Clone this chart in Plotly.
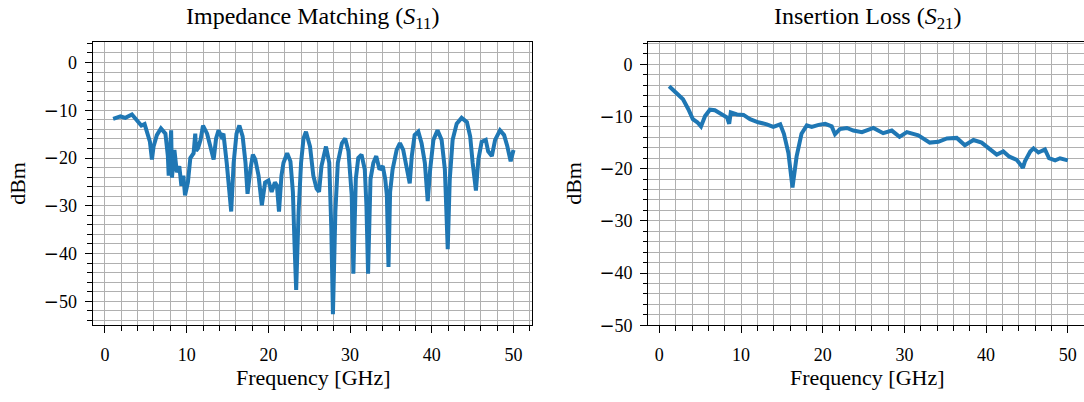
import plotly.graph_objects as go

# ---------------- data ----------------
s11_freq = [1.0, 1.5, 1.9, 2.5, 3.0, 3.3, 3.9, 4.45, 4.85, 5.1, 5.5, 5.75, 5.95, 6.35, 6.85,
            7.4, 7.7, 7.8, 8.1, 8.2, 8.5, 8.8, 9.1, 9.35, 9.6, 9.8, 10.15, 10.45, 10.85, 11.05,
            11.15, 11.4, 11.7, 12.0, 12.5, 12.9, 13.3, 13.6, 13.9, 14.25, 14.5, 14.9, 15.2, 15.45,
            15.75, 16.1, 16.45, 16.85, 17.2, 17.45, 17.8, 18.1, 18.4, 18.8, 19.2, 19.6, 20.0, 20.4,
            20.8, 21.05, 21.3, 21.6, 21.85, 22.3, 22.7, 23.0, 23.2, 23.4, 23.7, 24.0, 24.3, 24.6,
            25.1, 25.5, 25.9, 26.2, 26.5, 27.05, 27.45, 27.7, 27.9, 28.2, 28.5, 29.0, 29.4, 29.8,
            30.2, 30.4, 30.7, 31.0, 31.4, 31.8, 32.0, 32.2, 32.5, 32.85, 33.2, 33.6, 34.0, 34.3,
            34.5, 34.7, 34.9, 35.2, 35.7, 36.1, 36.5, 36.9, 37.3, 37.55, 37.9, 38.35, 38.75, 39.15,
            39.5, 39.8, 40.2, 40.7, 41.2, 41.6, 41.8, 41.95, 42.2, 42.55, 43.05, 43.65, 44.3, 44.7,
            45.0, 45.4, 45.7, 46.1, 46.6, 46.9, 47.35, 47.75, 48.35, 48.85, 49.25, 49.65, 50.0]
s11_db = [-11.8, -11.5, -11.3, -11.6, -11.2, -10.9, -12.1, -13.2, -12.9, -14.2, -16.6, -20.3, -17.6, -15.2, -13.8,
          -14.9, -19.6, -23.7, -14.2, -24.1, -18.3, -23.0, -21.7, -25.8, -23.7, -27.8, -25.1, -20.0, -19.0, -14.9,
          -18.5, -17.9, -16.2, -13.2, -14.9, -17.6, -20.3, -15.9, -14.2, -15.5, -14.9, -21.0, -26.4, -31.2,
          -21.0, -14.9, -13.2, -15.5, -21.0, -27.5, -22.4, -19.3, -20.3, -23.7, -29.9, -25.1, -24.7, -27.1,
          -25.1, -25.8, -31.2, -23.7, -21.0, -19.0, -20.7, -27.1, -38.0, -47.6, -31.2, -21.0, -15.9, -14.5,
          -17.6, -23.7, -26.4, -27.1, -21.7, -17.6, -21.0, -34.6, -52.7, -31.2, -21.0, -16.9, -15.9, -18.6,
          -27.8, -44.2, -24.4, -20.0, -19.3, -22.4, -29.9, -44.2, -24.4, -21.0, -19.6, -22.4, -21.7, -24.4,
          -27.8, -42.8, -27.1, -22.4, -18.3, -16.9, -18.3, -21.7, -25.3, -19.6, -15.2, -14.5, -16.9, -21.0,
          -29.0, -22.4, -16.2, -14.2, -16.2, -22.4, -31.2, -39.1, -24.4, -16.2, -12.8, -11.6, -12.5, -15.5,
          -21.0, -26.8, -20.3, -16.6, -16.2, -18.6, -19.6, -16.2, -14.2, -15.2, -17.6, -20.7, -18.3]

s21_freq = [1.2, 2.1, 2.9, 3.55, 4.1, 4.65, 5.1, 5.6, 6.2, 6.8, 7.6, 8.3, 8.55, 8.75, 9.5, 10.3,
            11.1, 12.1, 13.15, 13.95, 14.8, 15.25, 15.8, 16.3, 16.8, 17.4, 18.05, 18.65, 19.5, 20.3,
            21.1, 21.5, 22.1, 22.95, 23.75, 24.8, 26.2, 27.4, 28.45, 29.4, 30.3, 31.7, 33.1, 34.15,
            35.2, 36.4, 37.4, 38.45, 39.45, 40.5, 41.3, 42.1, 42.85, 43.75, 44.5, 44.75, 45.4, 45.8,
            46.4, 47.2, 47.7, 48.45, 49.05, 50.0]
s21_db = [-4.2, -5.5, -6.7, -8.6, -10.5, -11.1, -11.9, -9.9, -8.7, -8.8, -9.6, -10.2, -11.4, -9.2, -9.6, -9.7,
          -10.5, -11.1, -11.5, -12.0, -11.5, -13.3, -17.0, -23.6, -17.7, -13.3, -11.7, -12.0, -11.6, -11.4,
          -11.9, -13.4, -12.4, -12.2, -12.7, -13.0, -12.2, -13.2, -12.7, -13.9, -13.0, -13.6, -15.0, -14.85,
          -14.2, -14.1, -15.5, -14.5, -15.0, -16.4, -17.3, -16.7, -17.7, -18.3, -19.85, -18.6, -16.7, -16.1,
          -16.9, -16.3, -18.0, -18.4, -18.0, -18.4]

x_ticks = [0, 10, 20, 30, 40, 50]
y_ticks = [0, -10, -20, -30, -40, -50]

# ---------------- layout helpers ----------------
W, H = 1084, 402
def px(x):
    return x / W
def py(y):
    return 1 - y / H

FONT = "Liberation Serif"
LINE = "#1f77b4"
GRID = "#b0b0b0"

fig = go.Figure()
fig.add_trace(go.Scatter(x=s11_freq, y=s11_db, mode="lines",
                         line=dict(color=LINE, width=4), xaxis="x", yaxis="y",
                         showlegend=False))
fig.add_trace(go.Scatter(x=s21_freq, y=s21_db, mode="lines",
                         line=dict(color=LINE, width=4), xaxis="x2", yaxis="y2",
                         showlegend=False))

def ylabel(v):
    if v < 0:
        return "<span style='font-family:DejaVu Sans'>\u2212</span>" + str(-v)
    return str(v)

def common(domain, rng, anchor, mirror):
    return dict(domain=domain, range=rng, anchor=anchor,
                ticks="outside", ticklen=7, tickwidth=1.2, tickcolor="black",
                showline=True, linecolor="black", linewidth=1.3, mirror=mirror,
                showgrid=True, gridcolor=GRID, gridwidth=1, zeroline=False,
                minor=dict(dtick=2, tick0=0, ticks="outside", ticklen=4.5, tickwidth=1.1,
                           tickcolor="black", showgrid=True, gridcolor=GRID, gridwidth=1),
                tickfont=dict(family=FONT, size=18, color="black"))

def xaxis(domain, rng, anchor, mirror):
    d = common(domain, rng, anchor, mirror)
    d.update(tickmode="array", tickvals=x_ticks, ticktext=[str(v) for v in x_ticks],
             ticklabelstandoff=6)
    return d

def yaxis(domain, rng, anchor, mirror):
    d = common(domain, rng, anchor, mirror)
    d.update(tickmode="array", tickvals=y_ticks, ticktext=[ylabel(v) for v in y_ticks],
             ticklabelstandoff=4)
    return d

ydom = [py(333.5), py(43.5)]
fig.update_layout(
    width=W, height=H,
    margin=dict(l=0, r=0, t=0, b=0, pad=0),
    paper_bgcolor="white", plot_bgcolor="white",
    xaxis=xaxis([px(92.7), px(532.3)], [-1.5, 52.3], "y", True),
    yaxis=yaxis(ydom, [-55, 4.2], "x", True),
    xaxis2=xaxis([px(648.3), 1.0], [-1.35, 51.98], "y2", True),
    yaxis2=yaxis(ydom, [-50, 4.2], "x2", False),
)

ann = []
ann.append(dict(text="Impedance Matching (<i>S</i><sub>11</sub>)", x=px(312.5), y=py(18)))
ann.append(dict(text="Insertion Loss (<i>S</i><sub>21</sub>)", x=px(867.6), y=py(18)))
for a in ann:
    a.update(xref="paper", yref="paper", xanchor="center", yanchor="middle",
             showarrow=False, borderpad=0, font=dict(family=FONT, size=24, color="black"))
labels = [
    dict(text="Frequency [GHz]", x=px(313.3), y=py(387)),
    dict(text="Frequency [GHz]", x=px(867.6), y=py(387)),
    dict(text="dBm", x=px(18), y=py(188.5), textangle=-90),
    dict(text="dBm", x=px(574), y=py(188.5), textangle=-90),
]
for a in labels:
    a.update(xref="paper", yref="paper", xanchor="center", yanchor="middle",
             showarrow=False, borderpad=0, font=dict(family=FONT, size=22, color="black"))
fig.update_layout(annotations=ann + labels)

fig.write_html("out.html")
